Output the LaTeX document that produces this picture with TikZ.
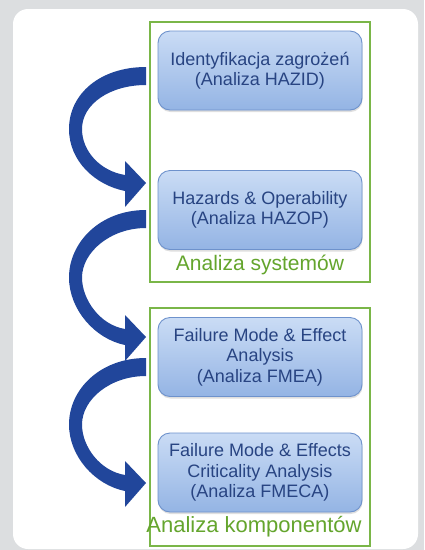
\documentclass[tikz,border=0pt]{standalone}
\usepackage{fontspec}
\setmainfont{Liberation Sans}
\usetikzlibrary{shadows}

\definecolor{pagegray}{RGB}{220,222,224}
\definecolor{framegreen}{RGB}{122,182,72}
\definecolor{labelgreen}{RGB}{100,165,45}
\definecolor{arrowblue}{RGB}{33,70,155}
\definecolor{stepline}{RGB}{110,146,204}
\definecolor{steptop}{RGB}{202,220,245}
\definecolor{stepbottom}{RGB}{148,180,228}
\definecolor{steptext}{RGB}{40,68,130}

\tikzset{
  stepbox/.style={draw=stepline, line width=0.9pt, rounded corners=12pt,
    top color=steptop, bottom color=stepbottom,
    minimum width=204pt, minimum height=79pt, inner sep=1pt,
    align=center, text=steptext,
    font=\fontsize{18}{20.5}\selectfont,
    drop shadow={opacity=0.25, shadow xshift=0.5pt, shadow yshift=-2pt}},
  groupframe/.style={draw=framegreen, line width=1.6pt},
  grouplabel/.style={text=labelgreen, font=\fontsize{21}{24}\selectfont, inner sep=0pt},
  bendfill/.style={fill=arrowblue, draw=none}
}

% curved arrow: #1 = top of band at its start, #2 = height of the tip
\newcommand{\bendarrow}[2]{%
  \fill[bendfill]
    (146,#1) .. controls (100,#1) and (69,{(#1+#2)/2+4-35}) .. (69,{(#1+#2)/2+4})
    .. controls (69,{(#1+#2)/2+36}) and (95,{#2+2}) .. (125,{#2+8})
    -- (125,{#2+24}) -- (146,#2) -- (125,{#2-22}) -- (125,{#2-8})
    .. controls (100,{#2-12}) and (82,{(#1+#2)/2+26}) .. (82,{(#1+#2)/2+4})
    .. controls (82,{(#1+#2)/2-21}) and (110,{#1+18}) .. (146,{#1+18}) -- cycle;}

\begin{document}
\begin{tikzpicture}[x=1pt,y=-1pt]
  % page and panel
  \fill[pagegray] (0,0) rectangle (424,550);
  \useasboundingbox (0,0) rectangle (424,550);
  \fill[white, rounded corners=15pt] (13,9) rectangle (418,549);

  % group frames
  \draw[groupframe] (150,22) rectangle (370,282);
  \draw[groupframe] (150,308) rectangle (370,546);

  % steps
  \node[stepbox] (hazid) at (260,70.5) {Identyfikacja zagrożeń\\(Analiza HAZID)};
  \node[stepbox] (hazop) at (260,210) {Hazards \& Operability\\(Analiza HAZOP)};
  \node[stepbox] (fmea) at (260,357) {Failure Mode \& Effect\\Analysis\\(Analiza FMEA)};
  \node[stepbox] (fmeca) at (260,472.5) {Failure Mode \& Effects\\Criticality Analysis\\(Analiza FMECA)};

  % group labels
  \node[grouplabel] (syslab) at (260,265) {Analiza systemów};
  \node[grouplabel, font=\fontsize{22}{24}\selectfont] (complab) at (254,527) {Analiza komponentów};

  % flow arrows between the steps
  \bendarrow{67}{183}
  \bendarrow{210}{337}
  \bendarrow{358}{483}
\end{tikzpicture}
\end{document}
